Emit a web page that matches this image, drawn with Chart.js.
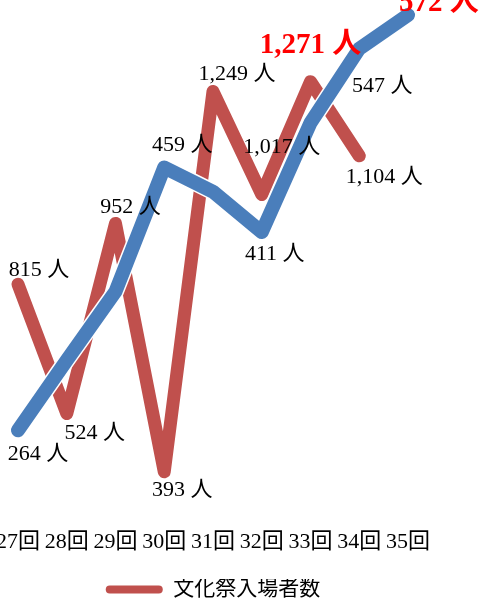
<!DOCTYPE html>
<html>
<head>
<meta charset="utf-8">
<script src="https://cdn.jsdelivr.net/npm/chart.js@4.4.0/dist/chart.umd.min.js"></script>
<style>
  html, body { margin: 0; padding: 0; background: #fff; }
  #wrap { position: relative; width: 483px; height: 604px; }
</style>
</head>
<body>
<div id="wrap"><canvas id="chart"></canvas></div>
<script>
// categories and series
const categories = ['27回', '28回', '29回', '30回', '31回', '32回', '33回', '34回', '35回'];
const visitors = [815, 524, 952, 393, 1249, 1017, 1271, 1104, null];
const secondSeries = [264, 316, 367, 459, 441, 411, 492, 547, 572];

const SERIF = '"Liberation Serif", "Noto Sans CJK JP", serif';

// label placement relative to each point (dx, dy)
const visitorOffsets = [[21, -14], [28, 20], [15, -16], [18, 18], [24, -17], [20, -47], [0, -36], [25, 21]];
const secondOffsets = { 0: [20, 24], 3: [18, -22], 5: [13, 22], 7: [23, 37], 8: [31, -12] };

// thin white edge under the blue line where it crosses the red one
const lineHalo = {
    id: 'lineHalo',
    beforeDatasetDraw(chart, args) {
        if (args.index !== 1) return;
        const pts = args.meta.data;
        const ctx = chart.ctx;
        ctx.save();
        ctx.beginPath();
        pts.forEach((p, i) => i ? ctx.lineTo(p.x, p.y) : ctx.moveTo(p.x, p.y));
        ctx.strokeStyle = '#ffffff';
        ctx.lineWidth = 17;
        ctx.lineCap = 'round';
        ctx.lineJoin = 'round';
        ctx.stroke();
        ctx.restore();
    }
};

const pointLabels = {
    id: 'pointLabels',
    afterDatasetsDraw(chart) {
        const ctx = chart.ctx;
        ctx.save();
        ctx.textAlign = 'center';
        ctx.textBaseline = 'middle';
        chart.data.datasets.forEach((ds, di) => {
            const meta = chart.getDatasetMeta(di);
            const maxVal = Math.max(...ds.data.filter(v => v != null));
            meta.data.forEach((pt, i) => {
                const v = ds.data[i];
                if (v == null) return;
                const off = di === 0 ? visitorOffsets[i] : secondOffsets[i];
                if (!off) return;
                // the highest value of each series is highlighted
                const top = v === maxVal;
                ctx.font = top ? 'bold 29px ' + SERIF : '22px ' + SERIF;
                ctx.fillStyle = top ? '#ff0000' : '#000000';
                ctx.fillText(v.toLocaleString('en-US') + ' 人', pt.x + off[0], pt.y + off[1]);
            });
        });
        ctx.restore();
    }
};

new Chart(document.getElementById('chart').getContext('2d'), {
    type: 'line',
    data: {
        labels: categories,
        datasets: [
            {
                label: '文化祭入場者数',
                data: visitors,
                yAxisID: 'y',
                borderColor: '#c0504d',
                backgroundColor: '#c0504d',
                borderWidth: 13,
                borderCapStyle: 'round',
                borderJoinStyle: 'round',
                pointRadius: 0,
                tension: 0,
                clip: false,
                order: 1
            },
            {
                label: 'second',
                data: secondSeries,
                yAxisID: 'y2',
                borderColor: '#4a7ebb',
                backgroundColor: '#4a7ebb',
                borderWidth: 14,
                borderCapStyle: 'round',
                borderJoinStyle: 'round',
                pointRadius: 0,
                tension: 0,
                clip: false,
                order: 0
            }
        ]
    },
    plugins: [lineHalo, pointLabels],
    options: {
        responsive: true,
        maintainAspectRatio: false,
        animation: false,
        layout: { padding: { left: 18, right: 75, top: 11, bottom: -6 } },
        plugins: {
            tooltip: { enabled: false },
            legend: {
                position: 'bottom',
                labels: {
                    generateLabels: chart => Chart.defaults.plugins.legend.labels.generateLabels(chart)
                        .filter(item => item.datasetIndex === 0)
                        .map(item => Object.assign(item, { lineWidth: 0 })),
                    boxWidth: 57,
                    boxHeight: 8,
                    useBorderRadius: true,
                    borderRadius: 4,
                    padding: 0,
                    color: '#000',
                    font: { family: SERIF, size: 21 }
                }
            }
        },
        scales: {
            x: {
                offset: false,
                grid: { display: false, drawTicks: false },
                border: { display: false },
                ticks: { color: '#000', padding: 7, maxRotation: 0, autoSkip: false, font: { family: SERIF, size: 22 } },
                afterFit: s => { s.paddingLeft = 0; s.paddingRight = 0; s.height = 57; }
            },
            y: { display: false, min: 280, max: 1430 },
            y2: { display: false, min: 196, max: 575 }
        }
    }
});
</script>
</body>
</html>
